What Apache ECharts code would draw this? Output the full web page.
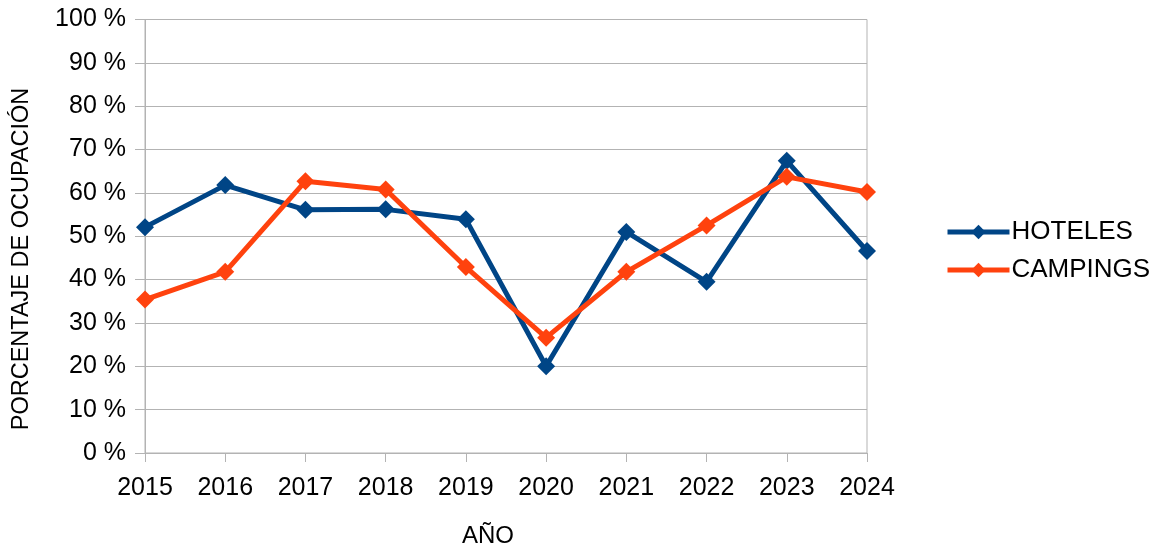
<!DOCTYPE html>
<html><head><meta charset="utf-8">
<script src="https://cdn.jsdelivr.net/npm/echarts@6/dist/echarts.min.js"></script>
<style>html,body{margin:0;padding:0;background:#fff}#c{width:1157px;height:548px}</style>
</head><body><div id="c"></div>
<script>
const years = ['2015','2016','2017','2018','2019','2020','2021','2022','2023','2024'];
const hoteles = [52.1, 61.8, 56.1, 56.2, 53.9, 20.0, 51.0, 39.5, 67.4, 46.6];
const campings = [35.4, 41.8, 62.7, 60.8, 42.9, 26.6, 41.8, 52.5, 63.7, 60.2];
const yTicks = [0,10,20,30,40,50,60,70,80,90,100];

const FONT = '"Liberation Sans", Arial, sans-serif';
const chart = echarts.init(document.getElementById('c'), null, {renderer:'canvas'});
chart.setOption({
  animation:false,
  backgroundColor:'#fff',
  textStyle:{fontFamily:FONT},
  grid:{left:145, right:290, top:19.5, bottom:95, show:true, borderColor:'#b3b3b3', borderWidth:1, containLabel:false},
  legend:{
    orient:'vertical', left:940, top:214, itemWidth:62, itemHeight:18, itemGap:12,
    textStyle:{fontSize:26, color:'#000', fontFamily:FONT, padding:[0,0,0,-3]},
    lineStyle:{width:5},
    data:['HOTELES','CAMPINGS']
  },
  xAxis:{
    type:'category', data:years, boundaryGap:false,
    axisLine:{lineStyle:{color:'#b3b3b3', width:1}},
    axisTick:{show:true, length:9, alignWithLabel:true, lineStyle:{color:'#b3b3b3'}},
    axisLabel:{fontSize:25, color:'#000', margin:23, fontFamily:FONT},
    splitLine:{show:false}
  },
  yAxis:{
    type:'value', min:0, max:100, interval:10,
    axisLine:{show:true, lineStyle:{color:'#b3b3b3', width:1}},
    axisTick:{show:true, length:10, lineStyle:{color:'#b3b3b3'}},
    axisLabel:{fontSize:25, color:'#000', margin:19, fontFamily:FONT,
      formatter:v => yTicks.includes(v) ? v + ' %' : ''},
    splitLine:{show:true, lineStyle:{color:'#b3b3b3', width:1}}
  },
  graphic:[
    {type:'text', x:22, y:259, rotation:Math.PI/2,
      style:{text:'PORCENTAJE DE OCUPACIÓN', font:'23.5px ' + FONT, fill:'#000', align:'center', verticalAlign:'middle'}},
    {type:'text', x:488, y:536,
      style:{text:'AÑO', font:'24px ' + FONT, fill:'#000', align:'center', verticalAlign:'middle'}}
  ],
  series:[
    {name:'HOTELES', type:'line', data:hoteles, color:'#004586',
      lineStyle:{width:5, color:'#004586'}, symbol:'diamond', symbolSize:18,
      itemStyle:{color:'#004586'}},
    {name:'CAMPINGS', type:'line', data:campings, color:'#ff420e',
      lineStyle:{width:5, color:'#ff420e'}, symbol:'diamond', symbolSize:18,
      itemStyle:{color:'#ff420e'}}
  ]
});
</script></body></html>
